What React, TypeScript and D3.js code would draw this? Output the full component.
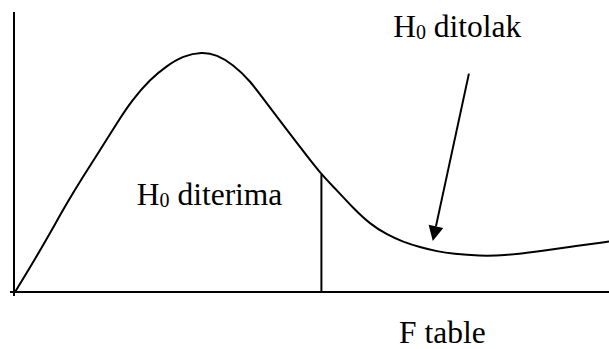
import React from 'react';
import * as d3 from 'd3';

// F distribution sketch
const fValues = [0, 0.36, 0.71, 1.05, 1.37, 1.72, 2.06, 2.36, 2.73, 3.07, 3.39, 3.78, 4.08, 4.4, 4.75, 5.09, 5.76, 6.16, 6.51, 6.83, 7.17, 7.52, 7.84, 8.18, 8.53, 8.85, 9.39, 9.86, 10.55, 11.21, 12.0];
const density = [0, 0.104, 0.211, 0.318, 0.411, 0.507, 0.604, 0.684, 0.76, 0.808, 0.843, 0.858, 0.847, 0.813, 0.755, 0.672, 0.518, 0.425, 0.362, 0.3, 0.243, 0.204, 0.179, 0.16, 0.145, 0.136, 0.129, 0.13, 0.144, 0.162, 0.18];

// critical value and the curve height there
const fTable = 6.19;
const fTableDensity = 0.42;

// arrow pointing at the rejection region
const arrowFrom = [9.17, 0.78];
const arrowTo = [8.44, 0.182];

const labelRejected = 'ditolak';
const labelAccepted = 'diterima';
const labelAxis = 'F table';

const WIDTH = 609;
const HEIGHT = 349;
const FONT = 'Liberation Serif';
const FS = 31.5;

const Label = ({ x, y, word }: { x: number; y: number; word: string }) => (
  <text x={x} y={y} fontFamily={FONT} fontSize={FS} fill="#000">
    <tspan>H</tspan>
    <tspan fontSize={20} dy={2}>0</tspan>
    <tspan dy={-2}>{' ' + word}</tspan>
  </text>
);

export default function App() {
  const x = d3.scaleLinear().domain([0, 12]).range([15, 609]);
  const y = d3.scaleLinear().domain([0, 1]).range([292, 12]);

  const points: [number, number][] = fValues.map((f, i) => [f, density[i]]);
  const line = d3
    .line<[number, number]>()
    .x(d => x(d[0]))
    .y(d => y(d[1]))
    .curve(d3.curveBasis);

  // arrow geometry
  const x1 = x(arrowFrom[0]);
  const y1 = y(arrowFrom[1]);
  const x2 = x(arrowTo[0]);
  const y2 = y(arrowTo[1]);
  const ang = Math.atan2(y2 - y1, x2 - x1);
  const headLen = 15;
  const headHalf = 7.5;
  const bx = x2 - headLen * Math.cos(ang);
  const by = y2 - headLen * Math.sin(ang);
  const px = -Math.sin(ang) * headHalf;
  const py = Math.cos(ang) * headHalf;
  const head = `M${x2},${y2}L${bx + px},${by + py}L${bx - px},${by - py}Z`;

  return (
    <svg
      width={WIDTH}
      height={HEIGHT}
      style={{ position: 'absolute', left: 0, top: 0, background: '#fff' }}
    >
      {/* axes */}
      <line x1={x(0) - 1} x2={x(0) - 1} y1={y(1)} y2={y(0) + 4} stroke="#000" strokeWidth={2} />
      <line x1={x(0) - 5} x2={WIDTH} y1={y(0)} y2={y(0)} stroke="#000" strokeWidth={2} />

      {/* density curve */}
      <path d={line(points) || ''} fill="none" stroke="#000" strokeWidth={2} />

      {/* critical value */}
      <line
        x1={x(fTable)}
        x2={x(fTable)}
        y1={y(0)}
        y2={y(fTableDensity)}
        stroke="#000"
        strokeWidth={2}
      />

      {/* arrow */}
      <line x1={x1} y1={y1} x2={bx} y2={by} stroke="#000" strokeWidth={2} />
      <path d={head} fill="#000" />

      <Label x={x(7.64)} y={y(0.911)} word={labelRejected} />
      <Label x={x(2.46)} y={y(0.312)} word={labelAccepted} />
      <text x={x(7.76)} y={y(-0.183)} fontFamily={FONT} fontSize={FS} fill="#000">
        {labelAxis}
      </text>
    </svg>
  );
}
